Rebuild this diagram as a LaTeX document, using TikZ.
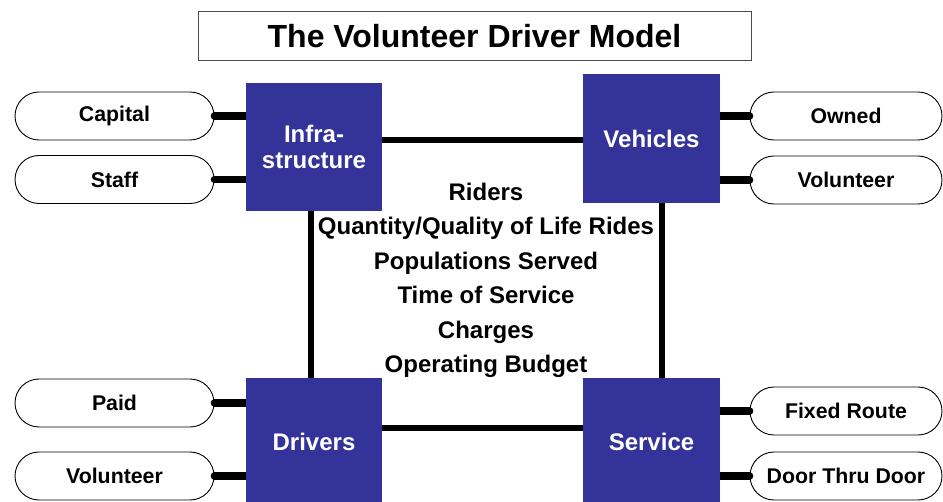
\documentclass[tikz,border=0pt]{standalone}
\usepackage{fontspec}
\setmainfont{Liberation Sans}
\usetikzlibrary{backgrounds}

\definecolor{boxblue}{RGB}{51,51,153}

\begin{document}
\begin{tikzpicture}[x=1pt, y=-1pt,
					font=\bfseries,
					main node/.style={rectangle, fill=boxblue, text=white, align=center,
						inner sep=0pt, font=\fontsize{24}{26}\selectfont\bfseries},
					option/.style={rectangle, draw, line width=0.9pt, rounded corners=24pt,
						inner sep=0pt, minimum height=48pt, font=\fontsize{21.3}{24}\selectfont\bfseries},
					spoke/.style={line width=7.5pt, line cap=round},
					link/.style={line width=5.5pt}]

  \useasboundingbox (0,0) rectangle (943,502);
  \clip (0,0) rectangle (943,502);

  % title
  \node[draw=black!70, line width=1pt, minimum width=553pt, minimum height=49pt,
        inner sep=0pt, font=\fontsize{32}{34}\selectfont\bfseries] (title) at (474.5,36.5)
        {The Volunteer Driver Model};

  % the four blocks
  \node[main node, minimum width=136pt, minimum height=128pt] (I) at (314,147) {Infra-\\structure};
  \node[main node, minimum width=137pt, minimum height=129pt] (V) at (651.5,138.5) {Vehicles};
  \node[main node, minimum width=136pt, minimum height=128pt] (D) at (314,442) {Drivers};
  \node[main node, minimum width=137pt, minimum height=128pt] (S) at (651.5,442) {Service};

  % options on the left
  \node[option, minimum width=199pt] (cap) at (114.5,116) {Capital};
  \node[option, minimum width=199pt] (staff) at (114.5,179.5) {Staff};
  \node[option, minimum width=199pt] (paid) at (114.5,403) {Paid};
  \node[option, minimum width=199pt] (dvol) at (114.5,476) {Volunteer};

  % options on the right
  \node[option, minimum width=192pt] (own) at (846,116) {Owned};
  \node[option, minimum width=192pt] (vvol) at (846,180) {Volunteer};
  \node[option, minimum width=192pt] (fixed) at (846,411) {Fixed Route};
  \node[option, minimum width=192pt] (door) at (846,476) {Door Thru Door};

  % what the model measures
  \node[align=center, font=\fontsize{24}{34.5}\selectfont\bfseries] (mid) at (486,280.5)
    {Riders\\Quantity/Quality of Life Rides\\Populations Served\\Time of Service\\Charges\\Operating Budget};

  \begin{scope}[on background layer]
    \draw[spoke] (cap.east) -- (cap.east -| I.west);
    \draw[spoke] (staff.east) -- (staff.east -| I.west);
    \draw[spoke] (paid.east) -- (paid.east -| D.west);
    \draw[spoke] (dvol.east) -- (dvol.east -| D.west);
    \draw[spoke] (own.west) -- (own.west -| V.east);
    \draw[spoke] (vvol.west) -- (vvol.west -| V.east);
    \draw[spoke] (fixed.west) -- (fixed.west -| S.east);
    \draw[spoke] (door.west) -- (door.west -| S.east);

    \draw[link] ([yshift=7pt]I.center) -- ([yshift=7pt]I.center -| V.center);
    \draw[link] ([xshift=-3pt]I.center) -- ([xshift=-3pt]I.center |- D.center);
    \draw[link] ([xshift=10.5pt]V.center) -- ([xshift=10.5pt]V.center |- S.center);
    \draw[link] ([yshift=14pt]D.center) -- ([yshift=14pt]D.center -| S.center);
  \end{scope}
\end{tikzpicture}
\end{document}
